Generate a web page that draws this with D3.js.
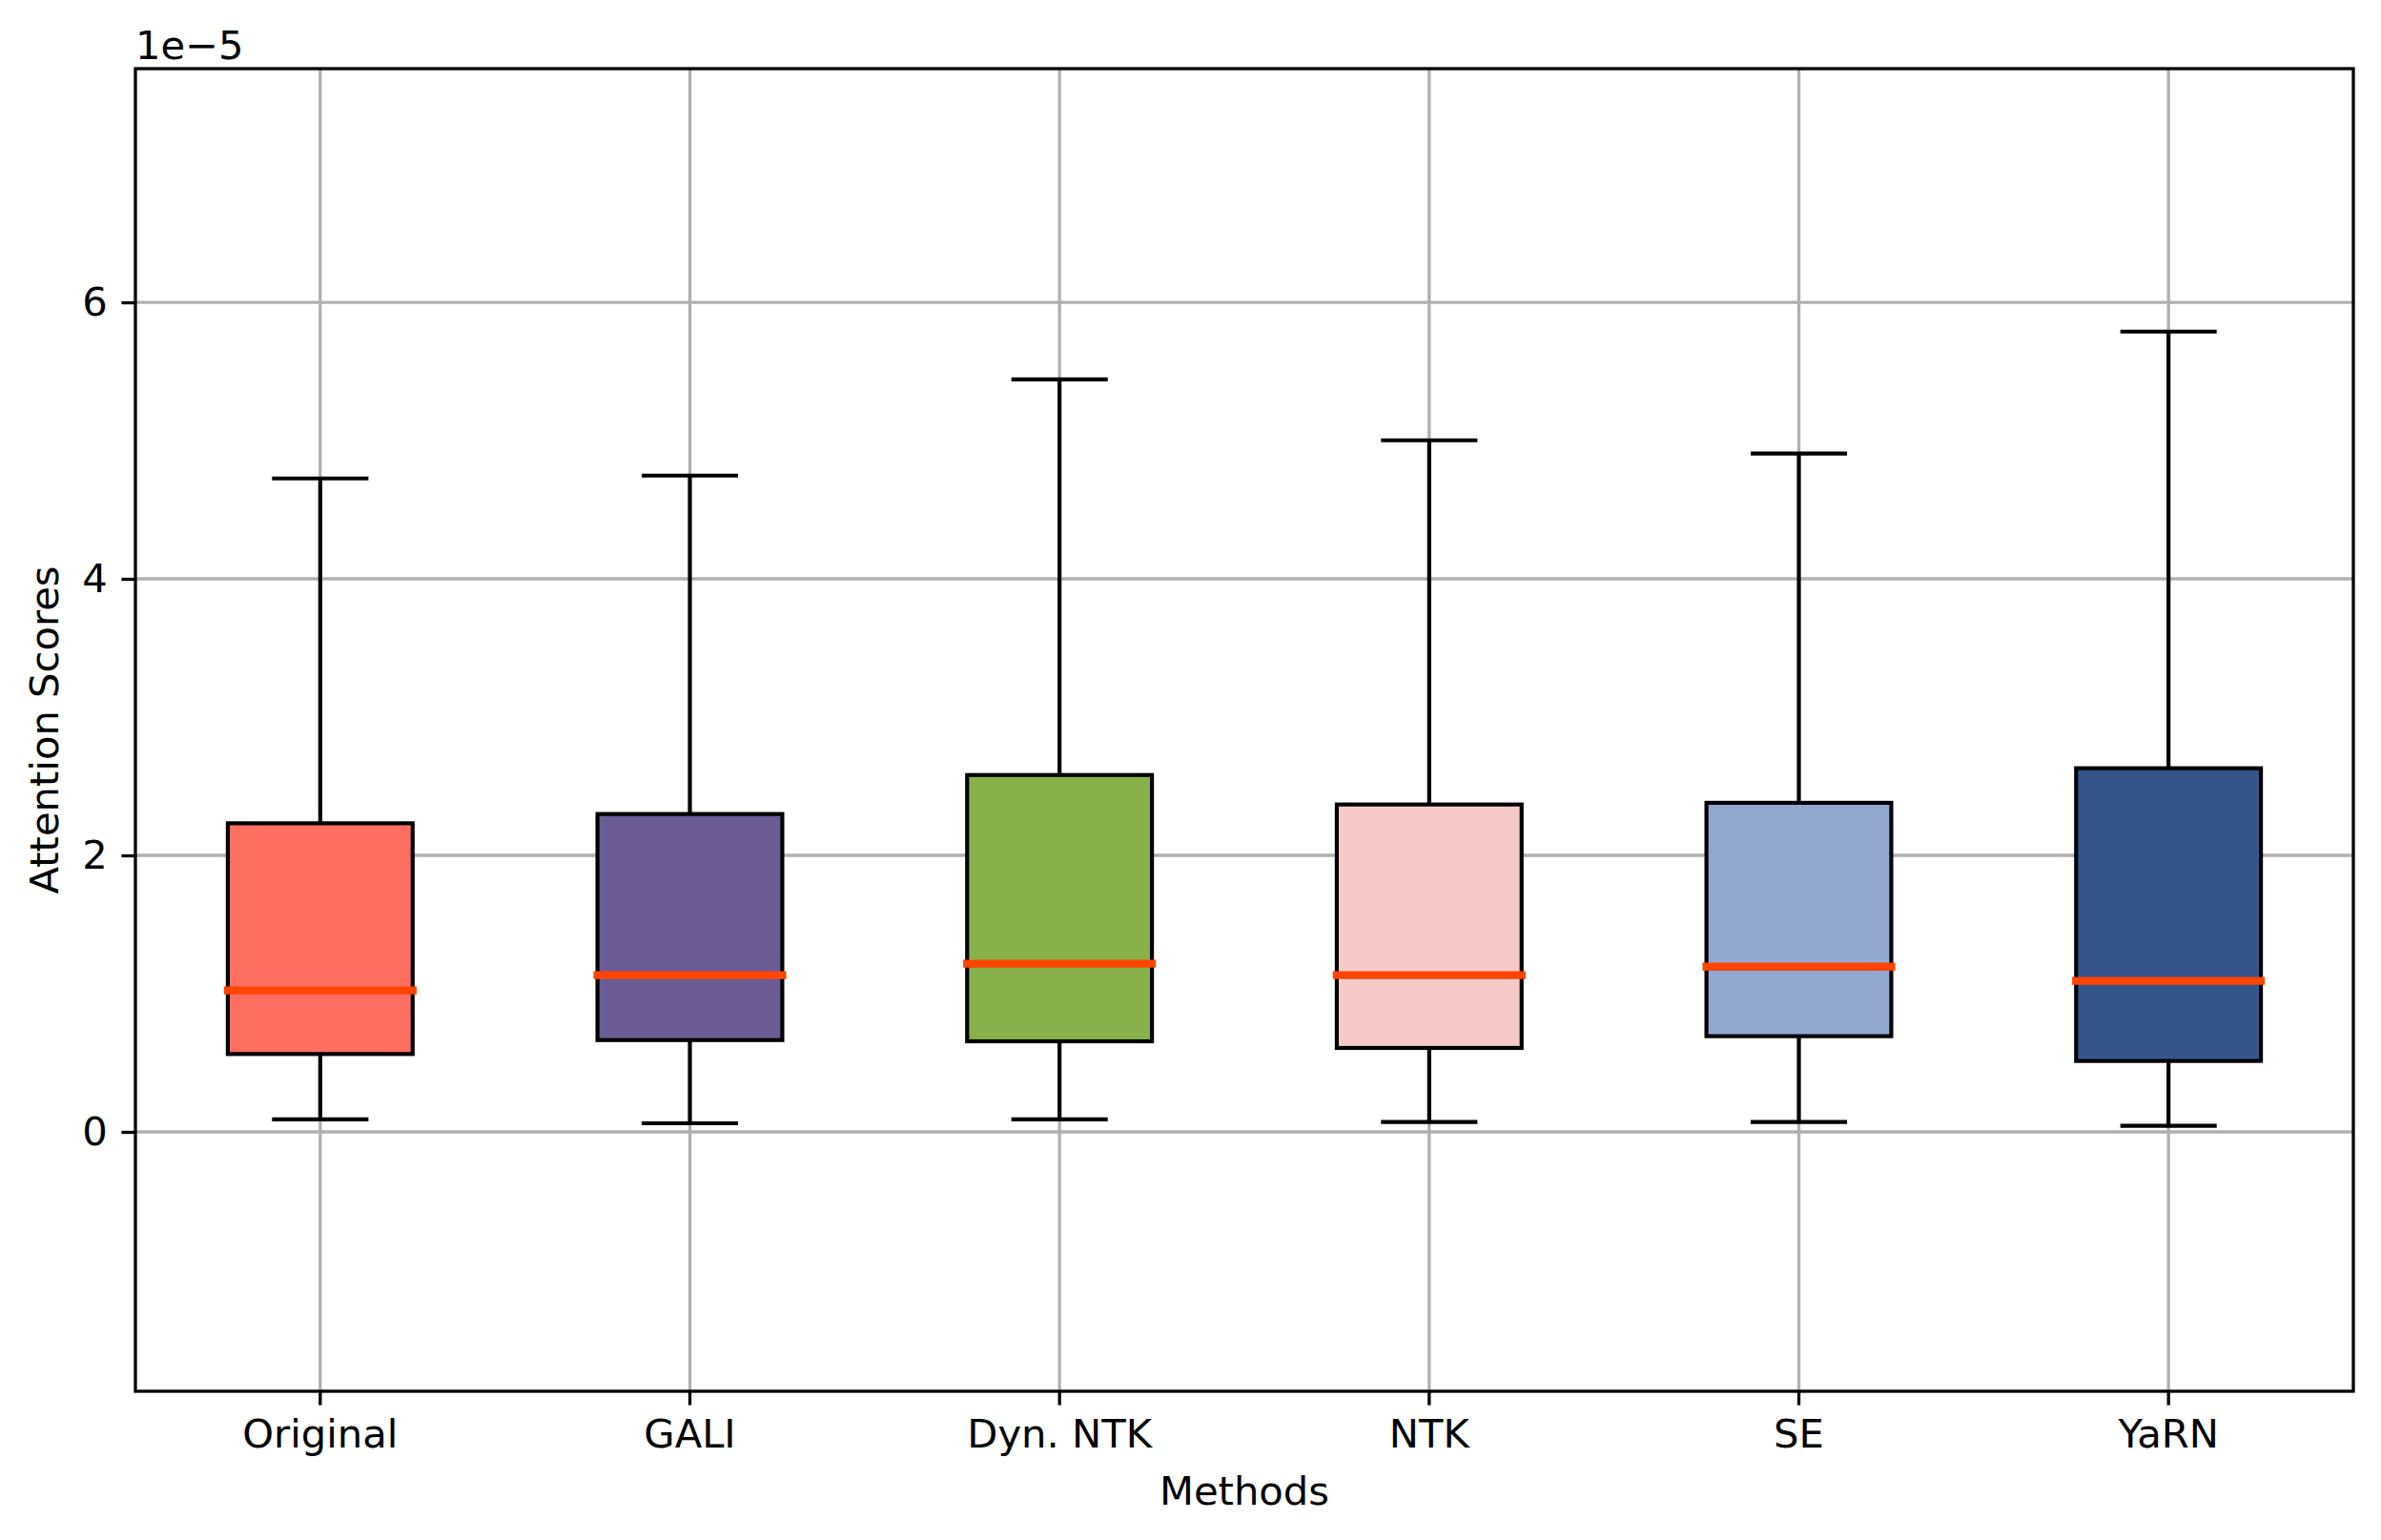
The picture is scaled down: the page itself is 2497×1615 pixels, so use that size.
<!DOCTYPE html>
<html>
<head>
<meta charset="utf-8">
<script src="https://cdn.jsdelivr.net/npm/d3@7"></script>
<style>
  html, body { margin: 0; padding: 0; background: #ffffff; }
  svg { display: block; }
  text { font-family: "DejaVu Sans", sans-serif; fill: #000; }
</style>
</head>
<body>
<script>
// ---- Data (values in attention score units) ----
const methods = ["Original", "GALI", "Dyn. NTK", "NTK", "SE", "YaRN"];
const whiskerLow  = [0.090e-5, 0.062e-5, 0.090e-5, 0.071e-5, 0.071e-5, 0.044e-5];
const q1Values    = [0.563e-5, 0.664e-5, 0.655e-5, 0.607e-5, 0.692e-5, 0.513e-5];
const medianValues= [1.023e-5, 1.133e-5, 1.216e-5, 1.133e-5, 1.195e-5, 1.092e-5];
const q3Values    = [2.232e-5, 2.299e-5, 2.581e-5, 2.368e-5, 2.380e-5, 2.630e-5];
const whiskerHigh = [4.726e-5, 4.747e-5, 5.443e-5, 5.002e-5, 4.906e-5, 5.788e-5];
const boxColors   = ["#FF6F61", "#6B5B95", "#88B04B", "#F7CAC9", "#92A8D1", "#34568B"];
const yTickValues = [0, 2e-5, 4e-5, 6e-5];
const yDomain     = [-1.876e-5, 7.690e-5];
const offsetLabel = "1e\u22125";

const rows = methods.map((m, i) => ({
  name: m, lo: whiskerLow[i], q1: q1Values[i], med: medianValues[i],
  q3: q3Values[i], hi: whiskerHigh[i], color: boxColors[i]
}));

// ---- Layout ----
const W = 2497, H = 1615;
const plot = { left: 142, right: 2468, top: 72, bottom: 1459 };
const fontPx = 41.7;
const tickLen = 14.6, tickPad = 14.6;

const svg = d3.select("body").append("svg").attr("width", W).attr("height", H);
svg.append("rect").attr("width", W).attr("height", H).attr("fill", "#fff");

const x = d3.scaleBand().domain(methods).range([plot.left, plot.right]).paddingInner(0).paddingOuter(0);
const y = d3.scaleLinear().domain(yDomain).range([plot.bottom, plot.top]);
const cx = d => x(d) + x.bandwidth() / 2;
const boxW = x.bandwidth() * 0.5;
const capW = boxW * 0.5;

// ---- Grid ----
const grid = svg.append("g");
grid.selectAll("line.gy").data(yTickValues).join("line")
  .attr("x1", plot.left).attr("x2", plot.right)
  .attr("y1", d => y(d)).attr("y2", d => y(d))
  .attr("stroke", "#b0b0b0").attr("stroke-width", 3.3);
grid.selectAll("line.gx").data(methods).join("line")
  .attr("x1", d => cx(d)).attr("x2", d => cx(d))
  .attr("y1", plot.top).attr("y2", plot.bottom)
  .attr("stroke", "#b0b0b0").attr("stroke-width", 3.3);

// ---- Boxes ----
const g = svg.append("g");
const lineW = 4.17;
// whiskers
g.selectAll("line.wl").data(rows).join("line")
  .attr("x1", d => cx(d.name)).attr("x2", d => cx(d.name))
  .attr("y1", d => y(d.q1)).attr("y2", d => y(d.lo))
  .attr("stroke", "#000").attr("stroke-width", lineW);
g.selectAll("line.wh").data(rows).join("line")
  .attr("x1", d => cx(d.name)).attr("x2", d => cx(d.name))
  .attr("y1", d => y(d.q3)).attr("y2", d => y(d.hi))
  .attr("stroke", "#000").attr("stroke-width", lineW);
// caps
["lo", "hi"].forEach(k => {
  g.selectAll("line.cap" + k).data(rows).join("line")
    .attr("x1", d => cx(d.name) - capW / 2).attr("x2", d => cx(d.name) + capW / 2)
    .attr("y1", d => y(d[k])).attr("y2", d => y(d[k]))
    .attr("stroke", "#000").attr("stroke-width", lineW).attr("stroke-linecap", "square");
});
// boxes
g.selectAll("rect.box").data(rows).join("rect")
  .attr("x", d => cx(d.name) - boxW / 2).attr("width", boxW)
  .attr("y", d => y(d.q3)).attr("height", d => y(d.q1) - y(d.q3))
  .attr("fill", d => d.color).attr("stroke", "#000").attr("stroke-width", lineW);
// medians
g.selectAll("line.med").data(rows).join("line")
  .attr("x1", d => cx(d.name) - boxW / 2).attr("x2", d => cx(d.name) + boxW / 2)
  .attr("y1", d => y(d.med)).attr("y2", d => y(d.med))
  .attr("stroke", "#FF4500").attr("stroke-width", 8.3).attr("stroke-linecap", "square");

// ---- Axes ----
const yAxis = d3.axisLeft(y).tickValues(yTickValues)
  .tickFormat(d => d3.format("d")(Math.round(d / 1e-5)))
  .tickSize(tickLen).tickPadding(tickPad);
const yg = svg.append("g").attr("transform", `translate(${plot.left},0)`).call(yAxis);
yg.select(".domain").remove();
yg.selectAll(".tick line").attr("stroke", "#000").attr("stroke-width", 3.3);
yg.selectAll(".tick text").attr("font-size", fontPx).attr("font-family", "DejaVu Sans").attr("fill", "#000");

const xAxis = d3.axisBottom(x).tickSize(tickLen).tickPadding(tickPad);
const xg = svg.append("g").attr("transform", `translate(0,${plot.bottom})`).call(xAxis);
xg.select(".domain").remove();
xg.selectAll(".tick line").attr("stroke", "#000").attr("stroke-width", 3.3);
xg.selectAll(".tick text").attr("font-size", fontPx).attr("font-family", "DejaVu Sans").attr("fill", "#000");

// frame
svg.append("rect")
  .attr("x", plot.left).attr("y", plot.top)
  .attr("width", plot.right - plot.left).attr("height", plot.bottom - plot.top)
  .attr("fill", "none").attr("stroke", "#000").attr("stroke-width", 3.3)
  .attr("stroke-linejoin", "miter").attr("stroke-linecap", "square");

// offset text
svg.append("text").attr("x", plot.left).attr("y", 62)
  .attr("font-size", fontPx).text(offsetLabel);

// axis labels
svg.append("text").attr("x", (plot.left + plot.right) / 2).attr("y", 1578)
  .attr("text-anchor", "middle").attr("font-size", fontPx).text("Methods");
svg.append("text")
  .attr("transform", `translate(61,${(plot.top + plot.bottom) / 2}) rotate(-90)`)
  .attr("text-anchor", "middle").attr("font-size", fontPx).text("Attention Scores");
</script>
</body>
</html>
